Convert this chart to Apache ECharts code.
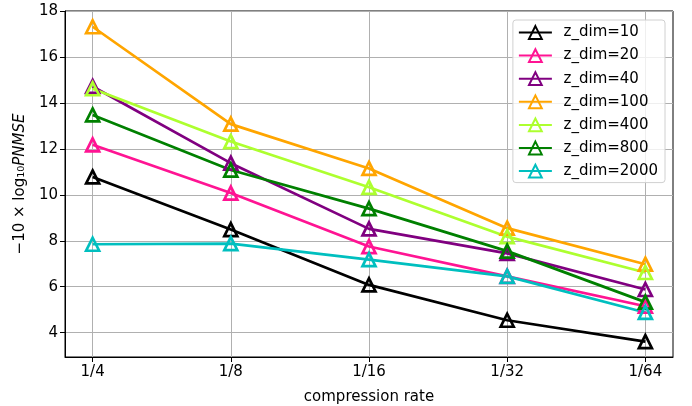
<!DOCTYPE html>
<html>
<head>
<meta charset="utf-8">
<script src="https://cdn.jsdelivr.net/npm/echarts@6/dist/echarts.min.js"></script>
<style>html,body{margin:0;padding:0;background:#fff}#c{width:692px;height:406px}</style>
</head>
<body>
<div id="c"></div>
<script>
const categories = ['1/4', '1/8', '1/16', '1/32', '1/64'];
const seriesNames = ['z_dim=10', 'z_dim=20', 'z_dim=40', 'z_dim=100', 'z_dim=400', 'z_dim=800', 'z_dim=2000'];
const colors = ['#000000', '#ff1493', '#800080', '#ffa500', '#adff2f', '#008000', '#00bfbf'];
const zdim10 = [10.78, 8.49, 6.08, 4.54, 3.61];
const zdim20 = [12.18, 10.08, 7.75, 6.45, 5.15];
const zdim40 = [14.72, 11.38, 8.52, 7.45, 5.88];
const zdim100 = [17.32, 13.08, 11.15, 8.55, 6.98];
const zdim400 = [14.62, 12.32, 10.33, 8.18, 6.62];
const zdim800 = [13.48, 11.08, 9.40, 7.55, 5.33];
const zdim2000 = [7.85, 7.88, 7.18, 6.45, 4.88];
const yTicks = [4, 6, 8, 10, 12, 14, 16, 18];

const allSeries = [zdim10, zdim20, zdim40, zdim100, zdim400, zdim800, zdim2000];
const xIdx = categories.map((c, i) => i);

const font = 'DejaVu Sans';
const chart = echarts.init(document.getElementById('c'), null, {renderer: 'canvas'});
chart.setOption({
  animation: false,
  backgroundColor: '#ffffff',
  grid: {left: 65, right: 19, top: 11, bottom: 49, show: true, borderColor: '#000', borderWidth: 1,
    backgroundColor: 'transparent', containLabel: false, outerBoundsMode: 'none'},
  xAxis: {
    type: 'value', min: -0.2, max: 4.2,
    name: 'compression rate', nameLocation: 'middle', nameGap: 33,
    nameTextStyle: {fontFamily: font, fontSize: 15, color: '#000'},
    axisLine: {show: true, onZero: false, lineStyle: {color: '#000', width: 1}},
    axisTick: {show: true, length: 5, lineStyle: {color: '#000'}, customValues: xIdx},
    axisLabel: {fontFamily: font, fontSize: 15, color: '#000', margin: 8, customValues: xIdx,
      formatter: v => categories[Math.round(v)]},
    splitLine: {show: true, lineStyle: {color: '#b0b0b0', width: 1}}
  },
  yAxis: {
    type: 'value', min: 2.94, max: 18.006,
    name: '{n|−10 × log₁₀}{i|PNMSE}', nameLocation: 'middle', nameGap: 36, nameRotate: 90,
    nameTextStyle: {fontFamily: font, fontSize: 15, color: '#000',
      rich: {n: {fontFamily: font, fontSize: 15, color: '#000'}, i: {fontFamily: font, fontSize: 15, fontStyle: 'italic', color: '#000'}}},
    axisLine: {show: true, onZero: false, lineStyle: {color: '#000', width: 1}},
    axisTick: {show: true, length: 5, lineStyle: {color: '#000'}, customValues: yTicks},
    axisLabel: {fontFamily: font, fontSize: 15, color: '#000', margin: 7, customValues: yTicks},
    splitLine: {show: true, lineStyle: {color: '#b0b0b0', width: 1}}
  },
  legend: {
    orient: 'vertical', right: 27, top: 20,
    padding: [5, 7, 4, 5], itemGap: 8.1, itemWidth: 33, itemHeight: 16,
    borderColor: '#d0d0d0', borderWidth: 1, borderRadius: 3,
    backgroundColor: 'rgba(255,255,255,0.8)',
    textStyle: {fontFamily: font, fontSize: 15, color: '#000', padding: [0, 0, 0, 6.7]},
    data: seriesNames
  },
  series: allSeries.map((vals, k) => ({
    name: seriesNames[k], type: 'line',
    data: vals.map((v, i) => [xIdx[i], v]),
    symbol: 'triangle', symbolSize: 13, showSymbol: true,
    lineStyle: {color: colors[k], width: 2.7},
    itemStyle: {color: 'rgba(255,255,255,0)', borderColor: colors[k], borderWidth: 2.7},
    emphasis: {disabled: true}
  }))
});
</script>
</body>
</html>
